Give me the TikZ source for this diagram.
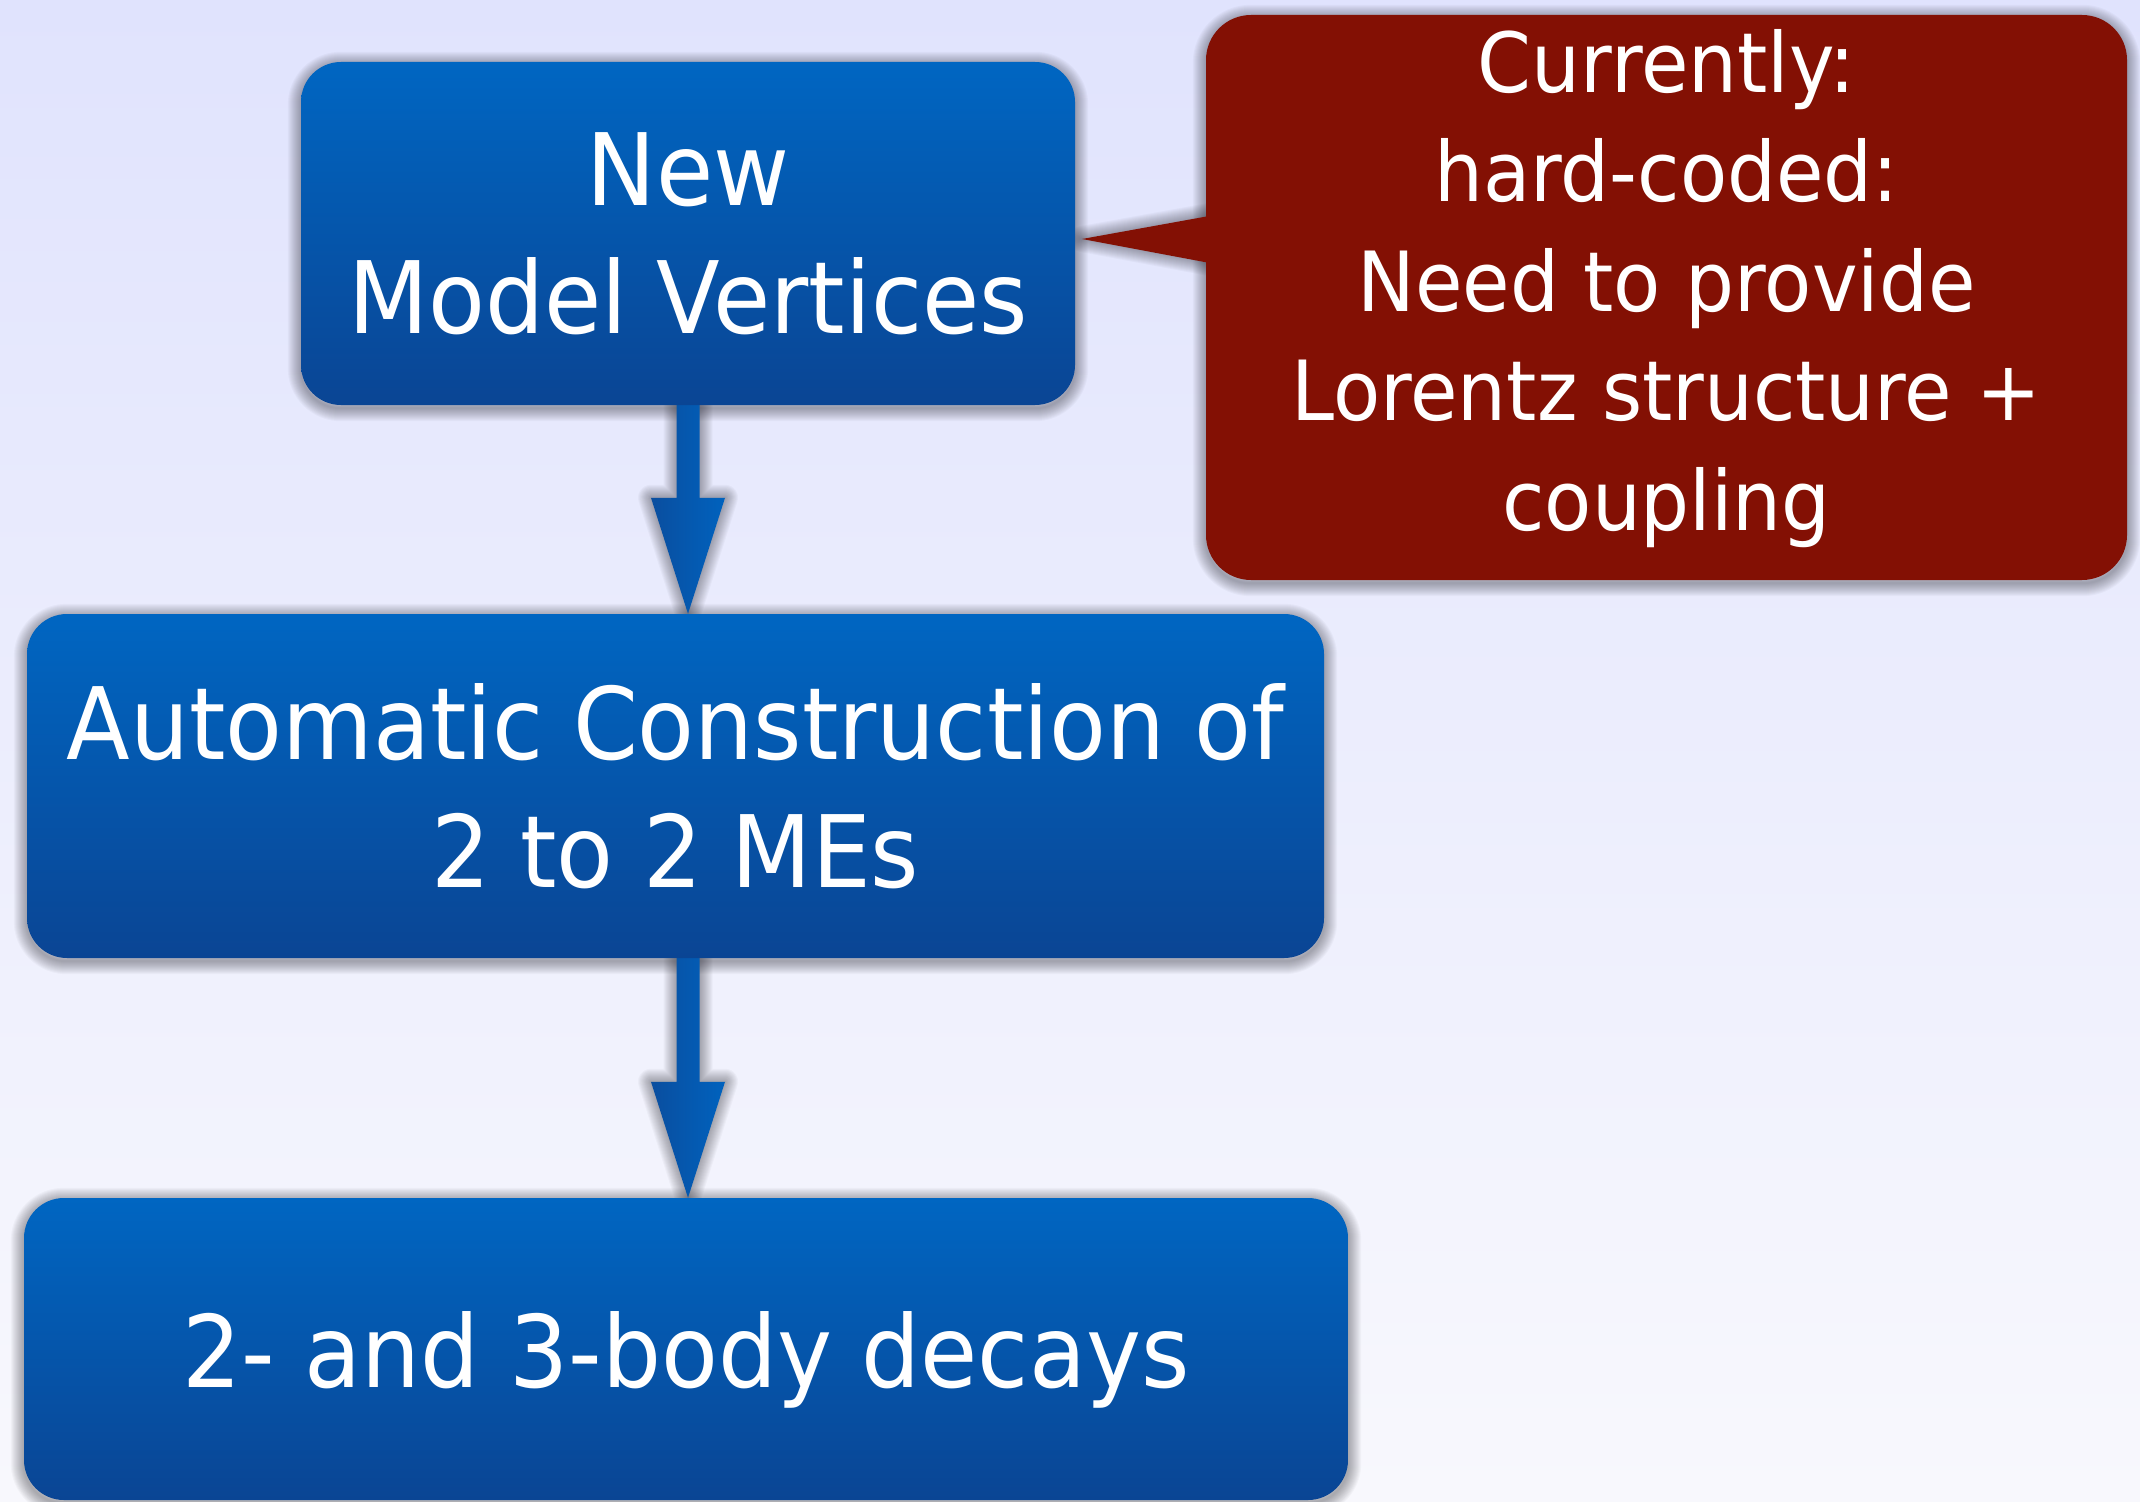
\documentclass[tikz,border=0pt]{standalone}
\usepackage{fontspec}
\setmainfont{DejaVu Sans}[FakeStretch=0.93]
\usetikzlibrary{calc}
\definecolor{bgtop}{HTML}{E0E3FD}
\definecolor{bgbot}{HTML}{F8F8FD}
\definecolor{boxtop}{HTML}{0066C2}
\definecolor{boxbot}{HTML}{0A4594}
\definecolor{callred}{HTML}{831004}
\definecolor{arrL}{HTML}{0A4E9F}
\definecolor{arrR}{HTML}{0062BE}
\definecolor{shadowcol}{HTML}{202028}
\pgfdeclarelayer{bg}
\pgfdeclarelayer{shadows}
\pgfdeclarelayer{back}
\pgfsetlayers{bg,shadows,back,main}
% arrow polygon from #2 (start) to #3 (tip), drawn with options #1
\newcommand\arrowpoly[3]{%
  \path[#1] ($(#2)+(-11.5,0)$) -- ($(#3)+(-11.5,-116)$) -- ($(#3)+(-37,-116)$) -- (#3)
    -- ($(#3)+(37,-116)$) -- ($(#3)+(11.5,-116)$) -- ($(#2)+(11.5,0)$) -- cycle;}
% callout pointer from the west side of #2 to the coordinate #3
\newcommand\pointerpoly[3]{%
  \path[#1] ([xshift=20pt]#2.west |- 0,213) -- (#3) -- ([xshift=20pt]#2.west |- 0,266) -- cycle;}
% soft shadow round a rounded box node #1 with corner radius #2
\newcommand\boxshadow[2]{%
  \foreach \w in {2,4,...,26}{%
    \draw[shadowstroke, line width=\w pt, rounded corners=#2] ([yshift=-3pt]#1.north west) rectangle ([yshift=-3pt]#1.south east);}}
\begin{document}
\begin{tikzpicture}[x=1pt,y=-1pt,
  shadowstroke/.style={draw=shadowcol, opacity=0.032, line join=round},
  flowbox/.style={rounded corners=40pt, top color=boxtop, bottom color=boxbot, text=white, inner sep=0pt,
     font=\fontsize{100}{128}\selectfont},
  callbox/.style={rounded corners=45pt, fill=callred, text=white, inner sep=0pt, align=center,
     font=\fontsize{83}{109.5}\selectfont},
  arrowbody/.style={left color=arrL, right color=arrR}]
\useasboundingbox (0,0) rectangle (2140,1501);
\begin{pgfonlayer}{bg}
  \shade[top color=bgtop, bottom color=bgbot] (0,0) rectangle (2140,1501);
\end{pgfonlayer}

\node[flowbox, align=center, minimum width=774pt, minimum height=343pt] (b1) at (688,233.5) {New\\Model Vertices};
\node[flowbox, align=center, minimum width=1297pt, minimum height=344pt] (b2) at (675.5,786) {Automatic Construction of\\2 to 2 MEs};
\node[flowbox, text depth=0pt, minimum width=1324pt, minimum height=302pt] (b3) at (686,1349) {2- and 3-body decays};
\node[callbox, minimum width=921pt, minimum height=565pt] (cal) at (1666.5,297.5)
  {Currently:\\hard-coded:\\Need to provide\\Lorentz structure +\\coupling\rule[-36pt]{0pt}{0pt}};
\coordinate (tip) at (1082,239);

\coordinate (a1e) at (b1.south |- b2.north);
\coordinate (a2s) at (b1.south |- b2.south);
\coordinate (a2e) at (b1.south |- b3.north);

\begin{pgfonlayer}{shadows}
  \boxshadow{b1}{40pt}
  \boxshadow{b2}{40pt}
  \boxshadow{b3}{40pt}
  \boxshadow{cal}{45pt}
  \foreach \w in {2,4,...,26}{%
    \arrowpoly{shadowstroke, line width=\w pt}{b1.south}{a1e}
    \arrowpoly{shadowstroke, line width=\w pt}{a2s}{a2e}
    \pointerpoly{shadowstroke, line width=\w pt}{cal}{tip}}
\end{pgfonlayer}
\begin{pgfonlayer}{back}
  \arrowpoly{arrowbody}{b1.south}{a1e}
  \arrowpoly{arrowbody}{a2s}{a2e}
  \pointerpoly{fill=callred}{cal}{tip}
\end{pgfonlayer}
\end{tikzpicture}
\end{document}
